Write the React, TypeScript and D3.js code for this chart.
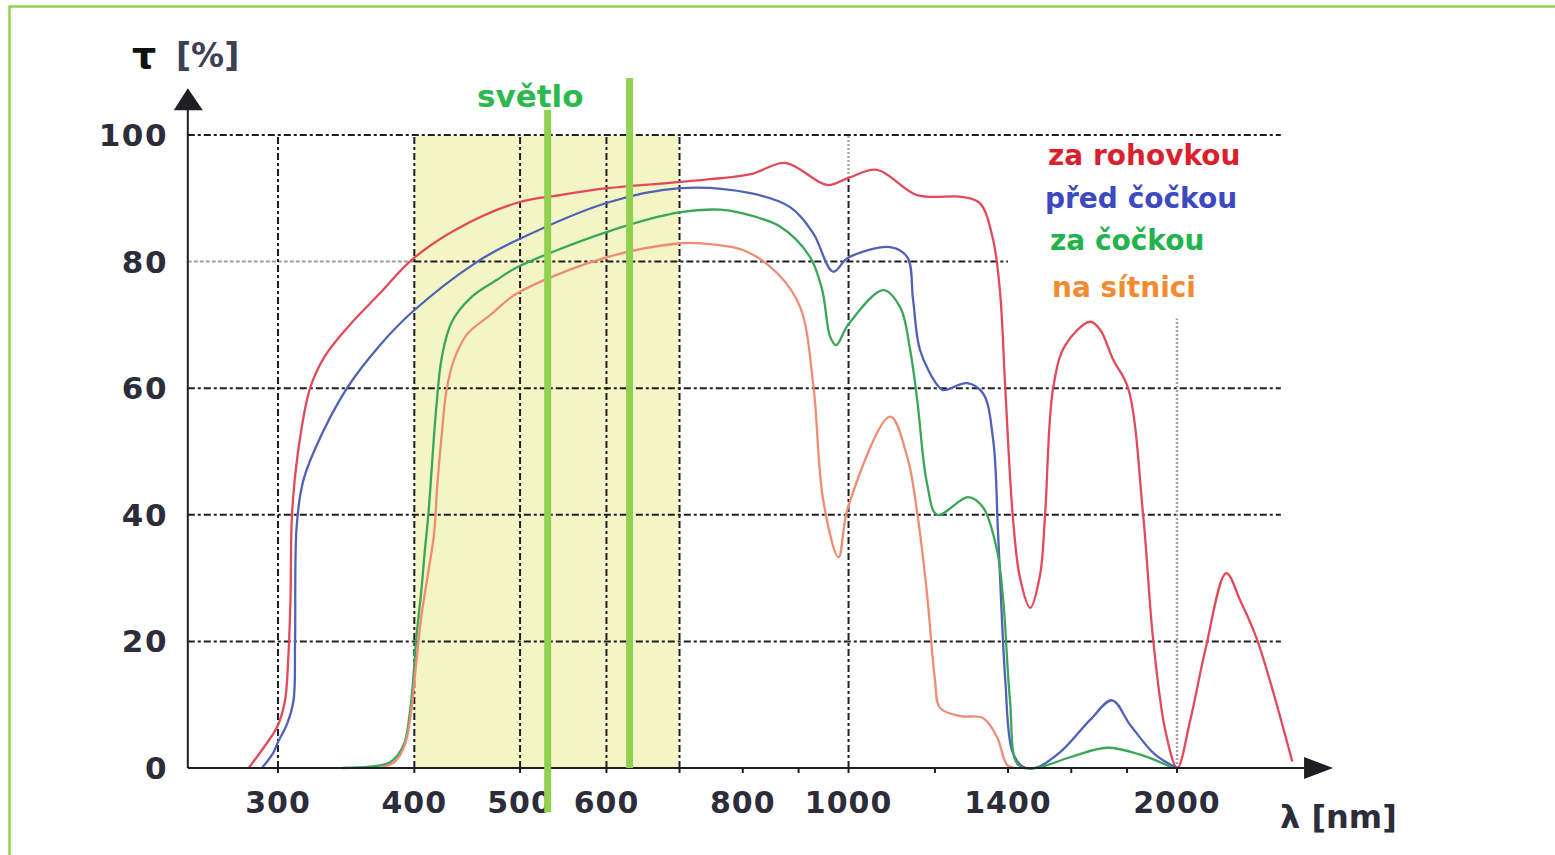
import * as d3 from "d3";
import React from "react";

type Pt = [number, number];

// x: wavelength [nm], y: transmittance tau [%]
const wavelengthTicks = [300, 400, 500, 600, 700, 800, 900, 1000, 1200, 1400, 1600, 1800, 2000];
const wavelengthLabels = [300, 400, 500, 600, 800, 1000, 1400, 2000];
const tauTicks = [0, 20, 40, 60, 80, 100];
const verticalGrid = [300, 400, 500, 600, 700, 1000];
const fullHorizontalGrid = [20, 40, 60, 100];
const visibleBand: [number, number] = [400, 700];
const markerLines = [
  { nm: 530, from: -7, to: 104 },
  { nm: 630, from: 0, to: 109 },
];

const zaRohovkou: Pt[] = [
  [282, 0], [291, 3.2], [299.5, 6.5], [304.5, 10.7], [306.5, 17], [308, 26.5], [309, 40],
  [313, 50], [321, 60], [331, 65], [349, 70], [372, 75], [398, 80.3], [436, 85], [497, 89.3],
  [544, 90.5], [601, 91.6], [701, 92.6], [813, 93.8], [875, 95.6], [956, 92.1], [999, 93.2],
  [1062, 94.5], [1156, 90.5], [1274, 90.2], [1320, 89.2], [1357, 83.4], [1377, 75], [1392, 60],
  [1414, 40], [1436, 30], [1467, 25.3], [1498, 30.5], [1514, 40], [1540, 60], [1580, 66.8],
  [1665, 70.5], [1701, 69.2], [1748, 64.5], [1804, 60], [1862, 40], [1902, 20.2], [1951, 6],
  [2001, 0], [2057, 7.6], [2123, 18.6], [2219, 30.8], [2285, 26.5], [2369, 20.2], [2551, 1],
];

const predCockou: Pt[] = [
  [290, 0], [297, 2.4], [300, 4.1], [306, 7.1], [310, 10.7], [311, 20], [312, 38], [316, 45],
  [324, 50.2], [347, 60], [372, 66.8], [398, 72], [457, 80], [497, 83.4], [601, 89.3],
  [701, 91.6], [813, 90.8], [884, 88.6], [928, 84.5], [968, 78.4], [999, 80.6], [1092, 82.3],
  [1132, 80.7], [1146, 73.9], [1163, 66], [1206, 60.5], [1221, 59.7], [1284, 60.8],
  [1328, 59.2], [1357, 51.8], [1371, 37.1], [1392, 13.9], [1412, 2.8], [1442, 0.3], [1483, 0],
  [1563, 2.5], [1665, 7.6], [1744, 10.7], [1812, 6.8], [1910, 2.1], [2001, 0],
];

const zaCockou: Pt[] = [
  [344, 0], [364, 0.2], [380, 0.9], [391, 3.6], [396, 8.4], [399, 13.9], [401.5, 20.2],
  [406, 28.1], [409, 34.4], [412, 40], [419, 57], [424, 65], [433, 70.5], [452, 74.5],
  [475, 77], [497, 79.1], [601, 84.7], [701, 87.8], [763, 88.2], [796, 87.7], [866, 85.5],
  [922, 80.7], [946, 75.5], [962, 68.1], [974, 66.8], [999, 70], [1076, 75.5], [1115, 72.8],
  [1139, 66], [1156, 58.1], [1180, 45], [1206, 40], [1287, 42.8], [1328, 41.2], [1368, 34.4],
  [1386, 26.5], [1406, 10.7], [1430, 0.5], [1483, 0], [1596, 1.7], [1726, 3.2], [1851, 2.1],
  [1984, 0],
];

const naSitnici: Pt[] = [
  [372, 0], [384, 1], [392, 3.6], [397, 8.4], [401, 15.5], [406, 24], [412, 31], [417, 37],
  [420, 45], [424, 53], [428, 59.5], [435, 64.5], [447, 68.5], [469, 71.5], [497, 75],
  [601, 80.7], [701, 82.9], [731, 82.9], [801, 81.8], [860, 78.2], [903, 72.8], [928, 60.8],
  [948, 42.3], [979, 33.3], [999, 41.2], [1092, 55.5], [1132, 49.1], [1156, 40.3], [1180, 27.6],
  [1200, 14], [1213, 9.5], [1266, 8.2], [1328, 7.9], [1368, 4.9], [1397, 0.5], [1421, 0],
];

const series = [
  { name: "za rohovkou", data: zaRohovkou, line: "#e24a5a", text: "#dc1f2e" },
  { name: "před čočkou", data: predCockou, line: "#4f62b8", text: "#3d49c0" },
  { name: "za čočkou", data: zaCockou, line: "#39a65a", text: "#23b24b" },
  { name: "na sítnici", data: naSitnici, line: "#ef8c74", text: "#f38a2e" },
];

const width = 1555;
const height = 855;
const FONT = "'DejaVu Sans', Verdana, sans-serif";

export default function App() {
  const ref = React.useRef<SVGSVGElement | null>(null);

  const drawElm = (el: SVGSVGElement) => {
    const svg = d3.select(el).attr("width", width).attr("height", height);
    svg.selectAll("*").remove();

    const x = d3.scaleLog().domain([300, 2000]).range([278, 1177]);
    const y = d3.scaleLinear().domain([0, 100]).range([768, 135]);

    const x0 = x(248);
    const xEnd = x(2780);
    const gridEnd = x(2490);
    const gridDash = "7 3 3 3";
    const ink = "#1e1e24";

    svg.append("rect").attr("width", width).attr("height", height).attr("fill", "#fff");
    // page frame
    svg
      .append("rect")
      .attr("x", 9.5)
      .attr("y", 6.5)
      .attr("width", width + 20)
      .attr("height", height + 20)
      .attr("fill", "none")
      .attr("stroke", "#92d050")
      .attr("stroke-width", 2.5);

    // visible band
    svg
      .append("rect")
      .attr("x", x(visibleBand[0]))
      .attr("y", y(100))
      .attr("width", x(visibleBand[1]) - x(visibleBand[0]))
      .attr("height", y(0) - y(100))
      .attr("fill", "#f3f5c5");

    const grid = svg.append("g").attr("fill", "none").attr("stroke-width", 2);

    grid
      .selectAll("line.h")
      .data(fullHorizontalGrid)
      .join("line")
      .attr("x1", x0)
      .attr("x2", gridEnd)
      .attr("y1", (d) => y(d))
      .attr("y2", (d) => y(d))
      .attr("stroke", ink)
      .attr("stroke-dasharray", gridDash);

    // 80 % line: light part left of 400 nm, dark up to 1400 nm
    grid
      .append("line")
      .attr("x1", x0)
      .attr("x2", x(400))
      .attr("y1", y(80))
      .attr("y2", y(80))
      .attr("stroke", "#a0a0a0")
      .attr("stroke-dasharray", "4 2");
    grid
      .append("line")
      .attr("x1", x(400))
      .attr("x2", x(1400))
      .attr("y1", y(80))
      .attr("y2", y(80))
      .attr("stroke", ink)
      .attr("stroke-dasharray", gridDash);

    grid
      .selectAll("line.v")
      .data(verticalGrid)
      .join("line")
      .attr("x1", (d) => x(d))
      .attr("x2", (d) => x(d))
      .attr("y1", y(0))
      .attr("y2", (d) => (d === 1000 ? y(93.2) : y(100)))
      .attr("stroke", ink)
      .attr("stroke-dasharray", gridDash);

    grid
      .append("line")
      .attr("x1", x(1000))
      .attr("x2", x(1000))
      .attr("y1", y(93.2))
      .attr("y2", y(100))
      .attr("stroke", "#a8a8a8")
      .attr("stroke-width", 2.5)
      .attr("stroke-dasharray", "2 2");
    grid
      .append("line")
      .attr("x1", x(2000))
      .attr("x2", x(2000))
      .attr("y1", y(0))
      .attr("y2", y(71))
      .attr("stroke", "#a0a0a0")
      .attr("stroke-width", 2.5)
      .attr("stroke-dasharray", "2 2");

    // curves
    const line = d3
      .line<Pt>()
      .x((d) => x(d[0]))
      .y((d) => Math.min(y(0), y(d[1])))
      .curve(d3.curveCatmullRom.alpha(0.5));

    svg
      .append("g")
      .selectAll("path")
      .data(series)
      .join("path")
      .attr("d", (d) => line(d.data) || "")
      .attr("fill", "none")
      .attr("stroke", (d) => d.line)
      .attr("stroke-width", 2.3)
      .attr("stroke-linejoin", "round");

    // axes
    const axes = svg.append("g").attr("stroke", ink).attr("stroke-width", 2);
    axes.append("line").attr("x1", x0).attr("x2", xEnd - 20).attr("y1", y(0)).attr("y2", y(0));
    axes.append("line").attr("x1", x0).attr("x2", x0).attr("y1", y(0)).attr("y2", y(107.4) + 18);
    svg
      .append("path")
      .attr("d", `M${xEnd},${y(0)} L${xEnd - 29},${y(0) - 11} L${xEnd - 29},${y(0) + 11} Z`)
      .attr("fill", ink);
    svg
      .append("path")
      .attr("d", `M${x0},${y(107.4)} L${x0 - 14},${y(107.4) + 22} L${x0 + 15},${y(107.4) + 22} Z`)
      .attr("fill", ink);

    axes
      .selectAll("line.tx")
      .data(wavelengthTicks)
      .join("line")
      .attr("x1", (d) => x(d))
      .attr("x2", (d) => x(d))
      .attr("y1", y(0))
      .attr("y2", y(0) + 5);

    svg
      .append("g")
      .selectAll("text")
      .data(wavelengthLabels)
      .join("text")
      .text((d) => String(d))
      .attr("x", (d) => x(d))
      .attr("y", 813)
      .attr("text-anchor", "middle")
      .attr("font-family", FONT)
      .attr("font-weight", "bold")
      .attr("font-size", 30)
      .attr("letter-spacing", 1)
      .attr("fill", "#2c2c3a");

    svg
      .append("g")
      .selectAll("text")
      .data(tauTicks)
      .join("text")
      .text((d) => String(d))
      .attr("x", 168)
      .attr("y", (d) => y(d) + 11)
      .attr("text-anchor", "end")
      .attr("font-family", FONT)
      .attr("font-weight", "bold")
      .attr("font-size", 31)
      .attr("letter-spacing", 1.5)
      .attr("fill", "#2c2c3a");

    // axis titles
    svg
      .append("text")
      .attr("x", 132)
      .attr("y", 68)
      .attr("font-family", FONT)
      .attr("font-weight", "bold")
      .attr("font-size", 38)
      .attr("fill", "#111")
      .text("τ");
    svg
      .append("text")
      .attr("x", 176)
      .attr("y", 67)
      .attr("font-family", FONT)
      .attr("font-weight", "bold")
      .attr("font-size", 33)
      .attr("fill", "#3c3f55")
      .text("[%]");

    svg
      .append("text")
      .attr("x", 1280)
      .attr("y", 828)
      .attr("font-family", FONT)
      .attr("font-weight", "bold")
      .attr("font-size", 32)
      .attr("fill", "#2c2c3a")
      .text("λ [nm]");

    // light markers
    svg
      .append("g")
      .selectAll("line")
      .data(markerLines)
      .join("line")
      .attr("x1", (d) => x(d.nm))
      .attr("x2", (d) => x(d.nm))
      .attr("y1", (d) => y(d.from))
      .attr("y2", (d) => y(d.to))
      .attr("stroke", "#92d050")
      .attr("stroke-width", 7);

    svg
      .append("text")
      .attr("x", 477)
      .attr("y", 107)
      .attr("font-family", FONT)
      .attr("font-weight", "bold")
      .attr("font-size", 31)
      .attr("fill", "#2db84d")
      .text("světlo");

    // legend
    const legendY = [165, 208, 250, 297];
    const legendX = [1048, 1045, 1050, 1052];
    svg
      .append("g")
      .selectAll("text")
      .data(series)
      .join("text")
      .text((d) => d.name)
      .attr("x", (d, i) => legendX[i])
      .attr("y", (d, i) => legendY[i])
      .attr("font-family", FONT)
      .attr("font-weight", "bold")
      .attr("font-size", 28)
      .attr("fill", (d) => d.text);
  };

  React.useEffect(() => {
    if (ref.current) {
      drawElm(ref.current);
    }
  });

  return (
    <div style={{ position: "absolute", left: 0, top: 0 }}>
      <svg ref={ref} width={width} height={height} style={{ display: "block" }}></svg>
    </div>
  );
}
